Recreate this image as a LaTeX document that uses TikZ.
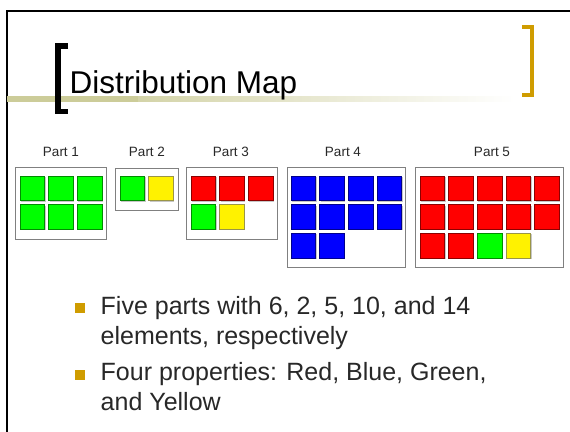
\documentclass[tikz,border=0pt]{standalone}
\usepackage{fontspec}
\setmainfont{Liberation Sans}
\usetikzlibrary{shadows}
\definecolor{gold}{RGB}{207,156,0}
\definecolor{khaki}{RGB}{204,204,153}
\definecolor{txt}{RGB}{40,40,40}
\definecolor{boxgray}{RGB}{128,128,128}
\begin{document}
\begin{tikzpicture}[x=1pt,y=-1pt,
  sq/.style={fill=#1, draw=#1!55!black, line width=0.8pt, minimum size=24.5pt, inner sep=0pt,
    general shadow={fill=black!22, shadow xshift=1pt, shadow yshift=-1pt}},
  partbox/.style={draw=boxgray, line width=1pt, fill=white, inner sep=0pt},
  lbl/.style={anchor=base, inner sep=0pt, text=txt, font=\fontsize{13.5}{16}\selectfont},
  bul/.style={fill=gold, minimum size=10pt, inner sep=0pt},
  bultext/.style={anchor=base west, inner sep=0pt, text=txt, align=left,
    font=\fontsize{25}{29.5}\selectfont}]
\useasboundingbox (0,0) rectangle (570,431);
\clip (0,0) rectangle (570,431);
\fill[white] (0,0) rectangle (570,431);
% slide frame
\draw[line width=2pt] (7,440) -- (7,11) -- (580,11);
% title rule
\fill[khaki] (7,96) rectangle (138,102);
\shade[left color=khaki!85, right color=white] (138,96.5) rectangle (515,101.5);
% brackets
\draw[line width=5.5pt, miter limit=10] (68,45.75) -- (57.75,45.75) -- (57.75,111.25) -- (68,111.25);
\draw[gold, line width=4pt, miter limit=10] (522,27) -- (532,27) -- (532,95) -- (522,95);
% title
\node[anchor=base west, inner sep=0pt, font=\fontsize{31.5}{37}\selectfont] (title) at (69.5,93.3) {Distribution Map};
% part boxes
\node[partbox, minimum width=91pt, minimum height=72pt] (part1) at (60.5,203) {};
\node[partbox, minimum width=63pt, minimum height=42pt] (part2) at (146.5,189) {};
\node[partbox, minimum width=91pt, minimum height=72pt] (part3) at (231.5,203) {};
\node[partbox, minimum width=118pt, minimum height=100pt] (part4) at (346,217) {};
\node[partbox, minimum width=148pt, minimum height=100pt] (part5) at (489,217) {};
% labels
\node[lbl] (lab1) at (61,156.5) {Part 1};
\node[lbl] (lab2) at (147,156) {Part 2};
\node[lbl] (lab3) at (231,156.5) {Part 3};
\node[lbl] (lab4) at (343,156.5) {Part 4};
\node[lbl] (lab5) at (492,156.5) {Part 5};
% squares
\foreach \k/\r/\c in {green/1/1,green/1/2,green/1/3,green/2/1,green/2/2,green/2/3}
  \node[sq=\k] (pa-\r-\c) at ({20+12.25+28.7*(\c-1)},{188.25+28.7*(\r-1)}) {};
\foreach \k/\r/\c in {green/1/1,yellow/1/2}
  \node[sq=\k] (pb-\r-\c) at ({120+12.25+28.7*(\c-1)},{188.25+28.7*(\r-1)}) {};
\foreach \k/\r/\c in {red/1/1,red/1/2,red/1/3,green/2/1,yellow/2/2}
  \node[sq=\k] (pc-\r-\c) at ({191+12.25+28.7*(\c-1)},{188.25+28.7*(\r-1)}) {};
\foreach \k/\r/\c in {blue/1/1,blue/1/2,blue/1/3,blue/1/4,blue/2/1,blue/2/2,blue/2/3,blue/2/4,blue/3/1,blue/3/2}
  \node[sq=\k] (pd-\r-\c) at ({291+12.25+28.7*(\c-1)},{188.25+28.7*(\r-1)}) {};
\foreach \k/\r/\c in {red/1/1,red/1/2,red/1/3,red/1/4,red/1/5,red/2/1,red/2/2,red/2/3,red/2/4,red/2/5,red/3/1,red/3/2,green/3/3,yellow/3/4}
  \node[sq=\k] (pe-\r-\c) at ({420+12.25+28.7*(\c-1)},{188.25+28.7*(\r-1)}) {};
% bullets
\node[bul] (b1) at (80,307.5) {};
\node[bultext] (t1) at (100.5,344) {Five parts with 6, 2, 5, 10, and 14\\elements, respectively};
\node[bul] (b2) at (80,374.5) {};
\node[bultext] (t2) at (100.5,410) {Four properties: Red, Blue, Green,\\and Yellow};
\end{tikzpicture}
\end{document}
